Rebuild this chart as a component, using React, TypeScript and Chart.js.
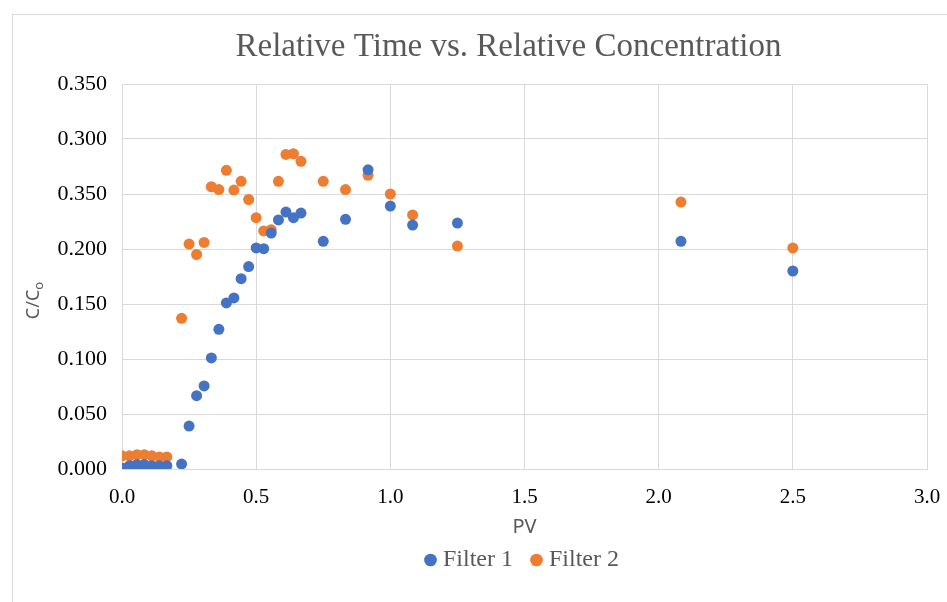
import { useEffect, useRef } from "react";
import { Chart, registerables } from "chart.js";

Chart.register(...registerables);

const chartTitle = "Relative Time vs. Relative Concentration";
const seriesNames = ["Filter 1", "Filter 2"];
const seriesColors = ["#4472C4", "#ED7D31"];

const pvValues = [
  0, 0.028, 0.056, 0.083, 0.111, 0.139, 0.167,
  0.222, 0.25, 0.278, 0.306, 0.333, 0.361, 0.389, 0.417, 0.444, 0.472,
  0.5, 0.528, 0.556, 0.583, 0.611, 0.639, 0.667,
  0.75, 0.833, 0.917, 1.0, 1.083, 1.25, 2.083, 2.5,
];

const filter1Values = [
  0.001, 0.003, 0.004, 0.004, 0.003, 0.003, 0.003,
  0.0045, 0.039, 0.0667, 0.0755, 0.101, 0.127, 0.151, 0.1555, 0.173, 0.184,
  0.201, 0.2003, 0.2145, 0.2264, 0.2336, 0.2285, 0.2327,
  0.207, 0.227, 0.272, 0.239, 0.2218, 0.2236, 0.207, 0.18,
];

const filter2Values = [
  0.012, 0.012, 0.013, 0.013, 0.012, 0.011, 0.011,
  0.137, 0.2045, 0.195, 0.206, 0.2566, 0.254, 0.2715, 0.2536, 0.2615, 0.245,
  0.2285, 0.2164, 0.2175, 0.2615, 0.286, 0.2866, 0.2797,
  0.2615, 0.254, 0.267, 0.25, 0.231, 0.2027, 0.2427, 0.201,
];

const xTickLabels = ["0.0", "0.5", "1.0", "1.5", "2.0", "2.5", "3.0"];
const yTickLabels = ["0.000", "0.050", "0.100", "0.150", "0.200", "0.350", "0.300", "0.350"];
const xAxisTitle = "PV";
const yAxisTitleMain = "C/C";
const yAxisTitleSub = "o";

const serif = "'Liberation Serif', 'Times New Roman', serif";
const sans = "'Noto Sans', 'Open Sans', sans-serif";

export default function App() {
  const ref = useRef<HTMLCanvasElement | null>(null);

  useEffect(() => {
    if (!ref.current) return;
    const textPlugin = {
      id: "customText",
      afterDraw(chart: any) {
        const { ctx, chartArea } = chart;
        ctx.save();
        // chart title
        ctx.font = `33px ${serif}`;
        ctx.fillStyle = "#595959";
        ctx.textAlign = "center";
        ctx.textBaseline = "middle";
        ctx.fillText(chartTitle, (chartArea.left + chartArea.right) / 2 - 16, chartArea.top - 37);
        // y axis title with subscript
        const cy = (chartArea.top + chartArea.bottom) / 2 + 24;
        ctx.translate(33, cy);
        ctx.rotate(-Math.PI / 2);
        ctx.font = `18px ${sans}`;
        const wMain = ctx.measureText(yAxisTitleMain).width;
        ctx.font = `13px ${sans}`;
        const wSub = ctx.measureText(yAxisTitleSub).width;
        const start = -(wMain + wSub) / 2;
        ctx.textAlign = "left";
        ctx.textBaseline = "alphabetic";
        ctx.font = `18px ${sans}`;
        ctx.fillText(yAxisTitleMain, start, 6);
        ctx.font = `13px ${sans}`;
        ctx.fillText(yAxisTitleSub, start + wMain, 10);
        ctx.restore();
      },
    };

    const chart = new Chart(ref.current, {
      type: "scatter",
      data: {
        datasets: [filter1Values, filter2Values].map((vals, i) => ({
          label: seriesNames[i],
          data: pvValues.map((x, j) => ({ x, y: vals[j] })),
          backgroundColor: seriesColors[i],
          borderColor: seriesColors[i],
          borderWidth: 0,
          pointRadius: 5.5,
          pointHoverRadius: 5.5,
          pointStyle: "circle",
        })),
      },
      options: {
        responsive: false,
        animation: false,
        events: [],
        layout: { padding: { left: 12, right: 20, top: 84, bottom: 20 } },
        plugins: {
          title: { display: false },
          tooltip: { enabled: false },
          legend: {
            position: "bottom",
            fullSize: false,
            labels: {
              usePointStyle: true,
              pointStyle: "circle",
              boxWidth: 1,
              boxHeight: 9,
              padding: 23,
              color: "#595959",
              font: { family: serif, size: 24 },
            },
          },
        },
        scales: {
          x: {
            type: "linear",
            min: 0,
            max: 3,
            ticks: {
              stepSize: 0.5,
              color: "#000",
              padding: 16,
              font: { family: serif, size: 21 },
              callback: (_v: any, i: number) => xTickLabels[i],
            },
            grid: { color: "#d9d9d9", drawTicks: false },
            border: { color: "#d9d9d9" },
            title: {
              display: true,
              text: xAxisTitle,
              color: "#595959",
              font: { family: sans, size: 20 },
              padding: { top: 0, bottom: -14 },
            },
            afterFit: (s: any) => {
              s.height = 56;
              s.paddingLeft = 0;
              s.paddingRight = 0;
            },
          },
          y: {
            min: 0,
            max: 0.35,
            ticks: {
              stepSize: 0.05,
              color: "#000",
              padding: 15,
              font: { family: serif, size: 22 },
              callback: (_v: any, i: number) => yTickLabels[i],
            },
            grid: { color: "#d9d9d9", drawTicks: false },
            border: { color: "#d9d9d9" },
            title: { display: false },
            afterFit: (s: any) => {
              s.width = 110;
            },
          },
        },
      },
      plugins: [textPlugin],
    });
    return () => chart.destroy();
  }, []);

  return (
    <div style={{ position: "absolute", left: 0, top: 0, width: 947, height: 602, background: "#fff" }}>
      <div
        style={{
          position: "absolute",
          left: 12,
          top: 14,
          right: 0,
          bottom: 0,
          borderLeft: "1px solid #d9d9d9",
          borderTop: "1px solid #d9d9d9",
        }}
      />
      <canvas ref={ref} width={947} height={602} style={{ position: "absolute", left: 0, top: 0 }} />
    </div>
  );
}
